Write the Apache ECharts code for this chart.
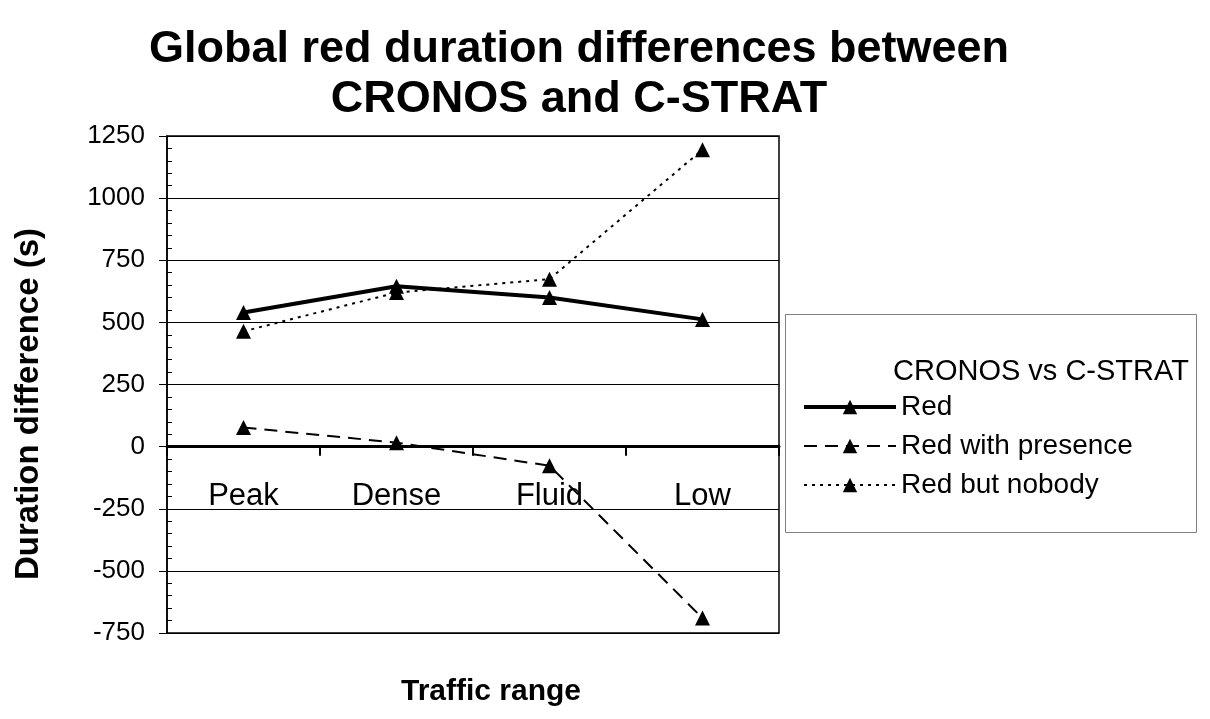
<!DOCTYPE html>
<html>
<head>
<meta charset="utf-8">
<script src="https://cdn.jsdelivr.net/npm/echarts@6/dist/echarts.min.js"></script>
<style>
  html, body { margin: 0; padding: 0; background: #fff; }
  #chart { width: 1210px; height: 719px; }
</style>
</head>
<body>
<div id="chart"></div>
<script>
const categories = ['Peak', 'Dense', 'Fluid', 'Low'];
const redValues = [540, 645, 600, 512];
const presenceValues = [77, 16, -77, -690];
const nobodyValues = [464, 620, 674, 1195];
const yTicks = [-750, 1250, 250]; // min, max, step

const chart = echarts.init(document.getElementById('chart'));
const font = 'Arial, "Liberation Sans", sans-serif';

// plot box
const gridTop = 136, gridBottom = 86, chartH = 719;
const zeroY = gridTop + (chartH - gridTop - gridBottom) * yTicks[1] / (yTicks[1] - yTicks[0]);
const xAxisOffset = -((chartH - gridBottom) - zeroY);

const tri = {
  symbol: 'triangle',
  symbolSize: 15,
  itemStyle: { color: '#000' }
};

const option = {
  backgroundColor: '#fff',
  animation: false,
  title: {
    text: 'Global red duration differences between\nCRONOS and C-STRAT',
    left: 574,
    top: 20,
    textAlign: 'center',
    textStyle: { fontFamily: font, fontSize: 45, fontWeight: 'bold', color: '#000', lineHeight: 50 }
  },
  grid: {
    left: 167, right: 431, top: gridTop, bottom: gridBottom,
    show: true, borderColor: '#000', borderWidth: 1.5, backgroundColor: '#fff'
  },
  legend: {
    orient: 'vertical',
    left: 797,
    top: 388,
    itemWidth: 92,
    itemHeight: 18,
    itemGap: 11,
    textStyle: { fontFamily: font, fontSize: 28, color: '#000', lineHeight: 28 },
    data: [
      { name: 'Red', lineStyle: { width: 4 } },
      { name: 'Red with presence', lineStyle: { width: 2 } },
      { name: 'Red but nobody', lineStyle: { width: 2 } }
    ]
  },
  graphic: [
    {
      type: 'rect', left: 785, top: 314, z: -1,
      shape: { width: 411, height: 218 },
      style: { fill: '#fff', stroke: '#808080', lineWidth: 1 }
    },
    {
      type: 'text', left: 893, top: 357,
      style: { text: 'CRONOS vs C-STRAT', font: '29px ' + font, fill: '#000' }
    },
    {
      type: 'text', x: 29, y: 404, rotation: Math.PI / 2,
      style: { text: 'Duration difference (s)', font: 'bold 33px ' + font, fill: '#000', align: 'center', verticalAlign: 'middle' }
    },
    {
      type: 'text', x: 491, y: 692,
      style: { text: 'Traffic range', font: 'bold 30px ' + font, fill: '#000', align: 'center', verticalAlign: 'middle' }
    }
  ],
  xAxis: {
    type: 'category',
    data: categories,
    boundaryGap: true,
    position: 'bottom',
    offset: xAxisOffset,
    axisLine: { onZero: false, lineStyle: { color: '#000', width: 3 } },
    axisTick: { show: true, length: 9, lineStyle: { color: '#000', width: 2 } },
    axisLabel: { margin: 34, fontFamily: font, fontSize: 31, color: '#000' },
    splitLine: { show: false }
  },
  yAxis: [
    {
      type: 'value',
      min: yTicks[0], max: yTicks[1], interval: yTicks[2],
      axisLine: { show: true, onZero: false, lineStyle: { color: '#000', width: 1.5 } },
      axisTick: { show: true, length: 8, lineStyle: { color: '#000', width: 1 } },
      axisLabel: { margin: 22, fontFamily: font, fontSize: 26, color: '#000', formatter: v => String(v) },
      splitLine: { show: true, lineStyle: { color: '#000', width: 1 } }
    },
    {
      type: 'value',
      position: 'left',
      min: yTicks[0], max: yTicks[1], interval: yTicks[2],
      axisLine: { show: false, onZero: false },
      axisTick: { show: true, inside: true, length: 0 },
      minorTick: { show: true, splitNumber: 5, length: 5, lineStyle: { color: '#000', width: 1 } },
      axisLabel: { show: false },
      splitLine: { show: false }
    }
  ],
  series: [
    Object.assign({
      name: 'Red', type: 'line', data: redValues,
      lineStyle: { color: '#000', width: 4 }
    }, tri),
    Object.assign({
      name: 'Red with presence', type: 'line', data: presenceValues,
      lineStyle: { color: '#000', width: 2, type: [13, 8] }
    }, tri),
    Object.assign({
      name: 'Red but nobody', type: 'line', data: nobodyValues,
      lineStyle: { color: '#000', width: 2, type: [3, 5] }
    }, tri)
  ]
};

chart.setOption(option);
</script>
</body>
</html>
